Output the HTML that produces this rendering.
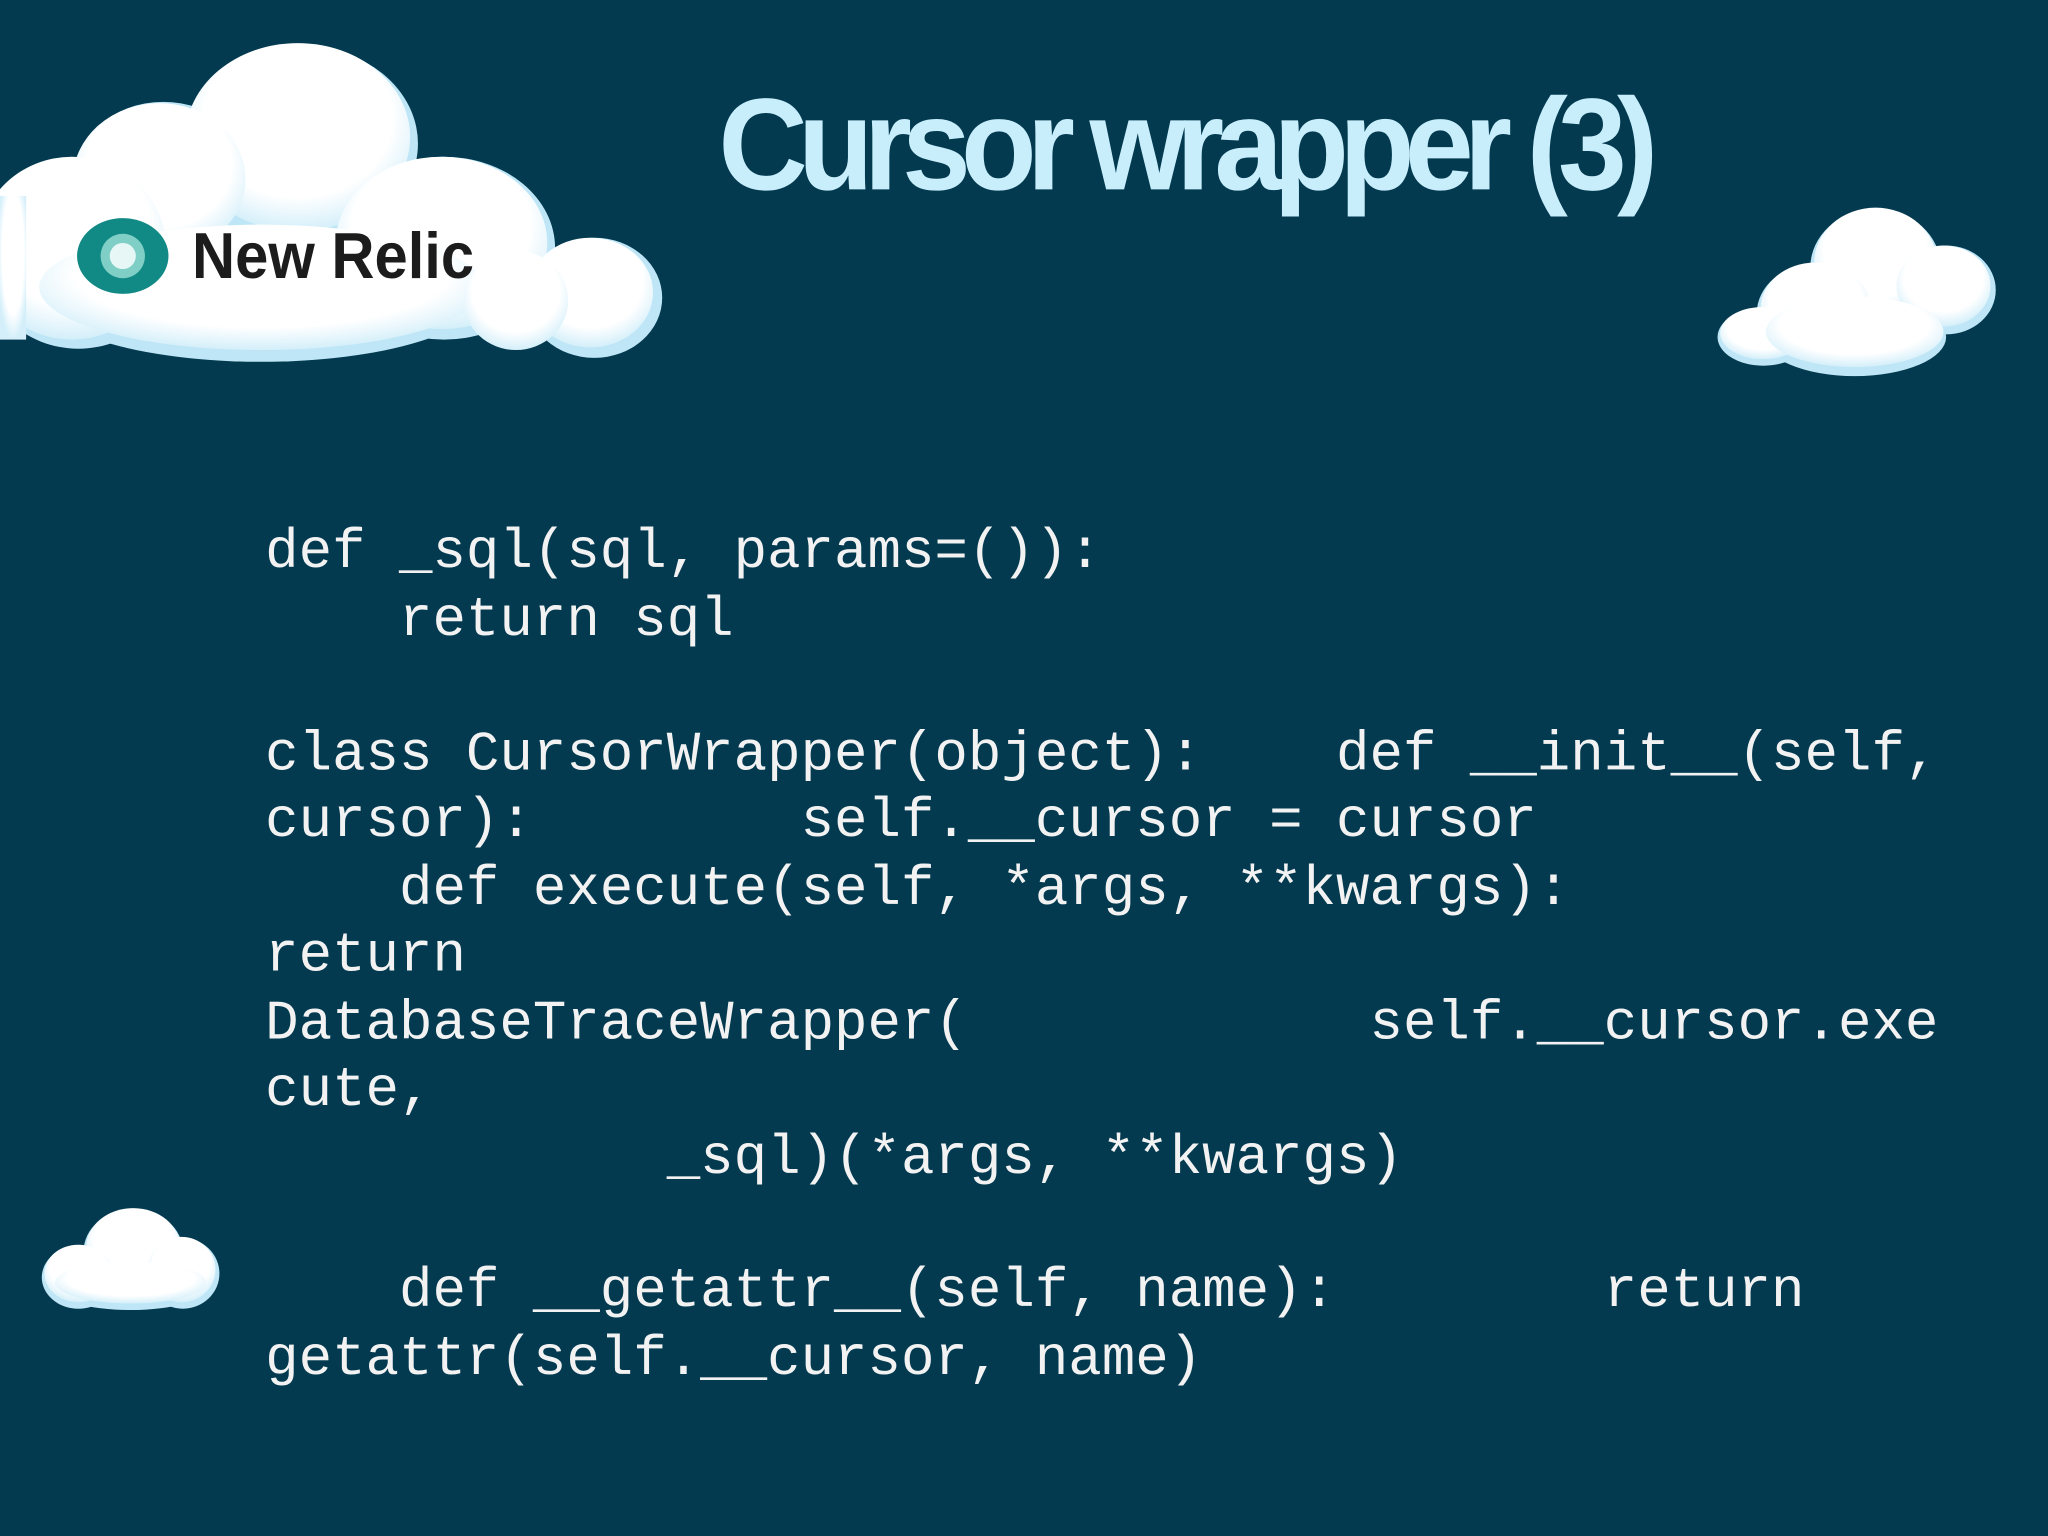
<!DOCTYPE html>
<html><head><meta charset="utf-8"><style>html,body{margin:0;padding:0;background:#033a50;}svg{display:block}svg text{white-space:pre}</style></head>
<body>
<svg width="2048" height="1536" viewBox="0 0 1568 1176" xmlns="http://www.w3.org/2000/svg">
<defs>
<radialGradient id="cg" cx="50%" cy="40%" r="60%">
<stop offset="0.7" stop-color="#ffffff"/><stop offset="1" stop-color="#d4effa"/>
</radialGradient>
</defs>
<rect width="1568" height="1176" fill="#033a50"/>
<!-- big cloud -->
<g fill="#bfe6f6">
<ellipse cx="230" cy="110" rx="90" ry="75"/>
<ellipse cx="125" cy="140" rx="70" ry="62"/>
<ellipse cx="340" cy="190" rx="85" ry="70"/>
<ellipse cx="455" cy="228" rx="52" ry="46"/>
<ellipse cx="60" cy="195" rx="75" ry="72"/>
<ellipse cx="200" cy="225" rx="170" ry="52"/>
</g>
<g fill="url(#cg)">
<ellipse cx="228" cy="105" rx="86" ry="72"/>
<ellipse cx="122" cy="137" rx="66" ry="58"/>
<ellipse cx="338" cy="186" rx="81" ry="66"/>
<ellipse cx="452" cy="224" rx="48" ry="42"/>
<ellipse cx="55" cy="190" rx="72" ry="70"/>
<ellipse cx="200" cy="220" rx="170" ry="48"/>
<ellipse cx="395" cy="230" rx="40" ry="38"/>
<rect x="0" y="150" width="20" height="110"/>
</g>
<!-- logo -->
<ellipse cx="94" cy="196" rx="35" ry="29" fill="#118a86"/>
<circle cx="94" cy="196" r="17" fill="#7fcfc6"/>
<circle cx="94" cy="196" r="10" fill="#e6f7f6"/>
<text x="147" y="213" font-family="Liberation Sans, sans-serif" font-weight="bold" font-size="50" fill="#1c1c1c" textLength="216" lengthAdjust="spacingAndGlyphs">New Relic</text>
<!-- right cloud -->
<g fill="#bfe6f6">
<ellipse cx="1436" cy="205" rx="50" ry="45"/>
<ellipse cx="1490" cy="222" rx="38" ry="34"/>
<ellipse cx="1390" cy="240" rx="45" ry="38"/>
<ellipse cx="1350" cy="258" rx="35" ry="22"/>
<ellipse cx="1420" cy="258" rx="70" ry="30"/>
</g>
<g fill="url(#cg)">
<ellipse cx="1436" cy="201" rx="47" ry="42"/>
<ellipse cx="1488" cy="219" rx="36" ry="31"/>
<ellipse cx="1390" cy="236" rx="42" ry="35"/>
<ellipse cx="1350" cy="255" rx="33" ry="20"/>
<ellipse cx="1420" cy="254" rx="68" ry="27"/>
</g>
<!-- bottom-left cloud -->
<g fill="#bfe6f6">
<ellipse cx="102" cy="958" rx="38" ry="32"/>
<ellipse cx="140" cy="975" rx="28" ry="27"/>
<ellipse cx="60" cy="978" rx="28" ry="24"/>
<ellipse cx="100" cy="985" rx="60" ry="18"/>
</g>
<g fill="url(#cg)">
<ellipse cx="102" cy="955" rx="36" ry="30"/>
<ellipse cx="139" cy="972" rx="26" ry="25"/>
<ellipse cx="60" cy="975" rx="26" ry="22"/>
<ellipse cx="100" cy="982" rx="58" ry="16"/>
</g>
<!-- title -->
<text x="550" y="145" font-family="Liberation Sans, sans-serif" font-weight="bold" font-size="100" fill="#c8eefc" textLength="712" lengthAdjust="spacingAndGlyphs" letter-spacing="-8">Cursor wrapper (3)</text>
<!-- code -->
<g font-family="Liberation Mono, monospace" font-size="42.7" fill="#f2f2f2">
<text x="203" y="434">def _sql(sql, params=()):</text>
<text x="203" y="486">    return sql</text>
<text x="203" y="589">class CursorWrapper(object):    def __init__(self,</text>
<text x="203" y="640">cursor):        self.__cursor = cursor</text>
<text x="203" y="692">    def execute(self, *args, **kwargs):</text>
<text x="203" y="743">return</text>
<text x="203" y="795">DatabaseTraceWrapper(            self.__cursor.exe</text>
<text x="203" y="846">cute,</text>
<text x="203" y="898">            _sql)(*args, **kwargs)</text>
<text x="203" y="1000">    def __getattr__(self, name):        return</text>
<text x="203" y="1052">getattr(self.__cursor, name)</text>
</g>
</svg>
</body></html>
